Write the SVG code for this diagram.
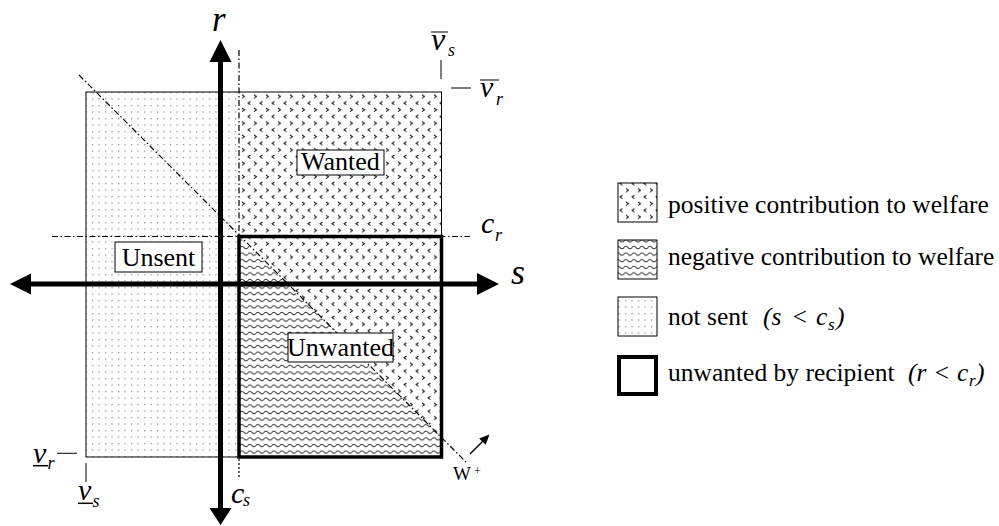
<svg xmlns="http://www.w3.org/2000/svg" width="999" height="526" viewBox="0 0 999 526" font-family="'Liberation Serif', 'Times New Roman', 'DejaVu Serif', serif">
<style>
text{font-family:'Liberation Serif','Times New Roman','DejaVu Serif',serif;fill:#000}
.i{font-style:italic}
.thin{fill:none;stroke:#000;stroke-width:1}
.dd{fill:none;stroke:#000;stroke-width:1.2;stroke-dasharray:6 2.5 1.5 2.5}
.box{fill:#fff;stroke:#000;stroke-width:1}
.ax{stroke:#000;stroke-width:5;fill:none}
.lg{font-size:25.5px}
</style>
<defs>
<pattern id="dots" width="6.5" height="6.5" patternUnits="userSpaceOnUse">
<circle cx="1.6" cy="1.6" r="0.7" fill="#777"/>
</pattern>
<pattern id="chev" width="12" height="13.4" patternUnits="userSpaceOnUse">
<path d="M2,1 L4.5,2.7 L2,4.4 M10.5,7.7 L8,9.4 L10.5,11.1" fill="none" stroke="#111" stroke-width="1"/>
</pattern>
<pattern id="wave" width="8" height="6.6" patternUnits="userSpaceOnUse">
<path d="M0,3.3 Q2,0.8 4,3.3 T8,3.3" fill="none" stroke="#222" stroke-width="1"/>
</pattern>
</defs>

<g id="regions">
<rect id="notsent" x="86" y="92" width="153" height="365" fill="url(#dots)"/>
<rect id="positive" x="239" y="92" width="202.5" height="365" fill="url(#chev)"/>
<polygon id="negative" points="239,236.5 441.5,437 441.5,457 239,457" fill="#fff"/>
<polygon points="239,236.5 441.5,437 441.5,457 239,457" fill="url(#wave)"/>
<rect x="86" y="92" width="355.5" height="365" class="thin"/>
</g>

<g id="guides">
<line x1="79" y1="75" x2="466" y2="462" class="dd"/>
<line x1="239" y1="50" x2="239" y2="237" class="dd"/>
<line x1="52" y1="236.5" x2="470" y2="236.5" class="dd"/>
<line x1="239" y1="459" x2="239" y2="478" stroke="#000" stroke-width="1.2" stroke-dasharray="2 2"/>
<rect id="unwanted-rect" x="239" y="236.5" width="202.5" height="220.5" fill="none" stroke="#000" stroke-width="3.5"/>
<line x1="441" y1="60" x2="441" y2="79" class="thin"/>
<line x1="451" y1="88" x2="471" y2="88" class="thin"/>
<line x1="57" y1="453.3" x2="77" y2="453.3" class="thin"/>
<line x1="86" y1="463" x2="86" y2="482" class="thin"/>
</g>

<g id="label-wanted">
<rect x="297" y="150" width="87" height="25" class="box"/>
<text x="340.5" y="170" font-size="26" text-anchor="middle">Wanted</text>
</g>
<g id="label-unsent">
<rect x="115" y="242" width="87" height="30" class="box"/>
<text x="158.5" y="266" font-size="26" text-anchor="middle">Unsent</text>
</g>
<g id="label-unwanted">
<rect x="288" y="333" width="105" height="29" class="box"/>
<text x="340.5" y="356" font-size="26" text-anchor="middle">Unwanted</text>
</g>

<g id="axes">
<line x1="220.5" y1="60" x2="220.5" y2="510" class="ax"/>
<polygon points="220.5,40 209.5,62 231.5,62" fill="#000"/>
<polygon points="220.5,525 209.5,508 231.5,508" fill="#000"/>
<line x1="29" y1="284" x2="479" y2="284" class="ax"/>
<polygon points="10,284 31,273.5 31,294.5" fill="#000"/>
<polygon points="499,284 477,273 477,295" fill="#000"/>
<line x1="470" y1="454" x2="484" y2="440" stroke="#000" stroke-width="1.5"/>
<polygon points="489.5,434.5 485.6,444.8 479.2,438.4" fill="#000"/>
</g>

<g id="axis-labels">
<text x="212" y="31" class="i" font-size="35">r</text>
<text x="511" y="284" class="i" font-size="36">s</text>
<text x="431" y="50" class="i" font-size="32">v</text>
<line x1="431" y1="32" x2="448" y2="32" class="thin"/>
<text x="448" y="56" class="i" font-size="18">s</text>
<text x="480" y="97" class="i" font-size="30">v</text>
<line x1="480" y1="80" x2="499" y2="80" class="thin"/>
<text x="496" y="105" class="i" font-size="18">r</text>
<text x="481" y="233" class="i" font-size="30">c</text>
<text x="495" y="241" class="i" font-size="18">r</text>
<text x="231" y="503" class="i" font-size="30">c</text>
<text x="243" y="506" class="i" font-size="18">s</text>
<text x="33" y="463" class="i" font-size="30">v</text>
<line x1="33" y1="465.7" x2="48" y2="465.7" stroke="#000" stroke-width="1.5"/>
<text x="47.5" y="469" class="i" font-size="18">r</text>
<text x="78" y="500" class="i" font-size="30">v</text>
<line x1="78" y1="503.3" x2="93" y2="503.3" stroke="#000" stroke-width="1.5"/>
<text x="92.5" y="507" class="i" font-size="18">s</text>
<text x="453" y="480" font-size="19">W</text>
<text x="474" y="475" font-size="12">+</text>
</g>

<g id="legend">
<g id="leg-positive">
<rect x="618" y="183" width="39" height="39" fill="url(#chev)" stroke="#000" stroke-width="1"/>
<text x="668" y="213" class="lg">positive contribution to welfare</text>
</g>
<g id="leg-negative">
<rect x="618" y="240" width="39" height="39" fill="url(#wave)" stroke="#000" stroke-width="1"/>
<text x="668" y="265" class="lg">negative contribution to welfare</text>
</g>
<g id="leg-notsent">
<rect x="618" y="297" width="39" height="39" fill="url(#dots)" stroke="#000" stroke-width="1"/>
<text x="668" y="325" class="lg">not sent</text>
<text y="325" class="i lg"><tspan x="763">(s</tspan><tspan x="791">&lt;</tspan><tspan x="816">c</tspan></text>
<text x="828" y="330" class="i" font-size="17">s</text>
<text x="836" y="325" class="i lg">)</text>
</g>
<g id="leg-unwanted">
<rect x="619" y="357" width="37" height="37" fill="#fff" stroke="#000" stroke-width="4"/>
<text x="668" y="381" class="lg">unwanted by recipient</text>
<text y="381" class="i lg"><tspan x="908">(r</tspan><tspan x="933">&lt;</tspan><tspan x="957">c</tspan></text>
<text x="969" y="386" class="i" font-size="17">r</text>
<text x="976" y="381" class="i lg">)</text>
</g>
</g>
</svg>
